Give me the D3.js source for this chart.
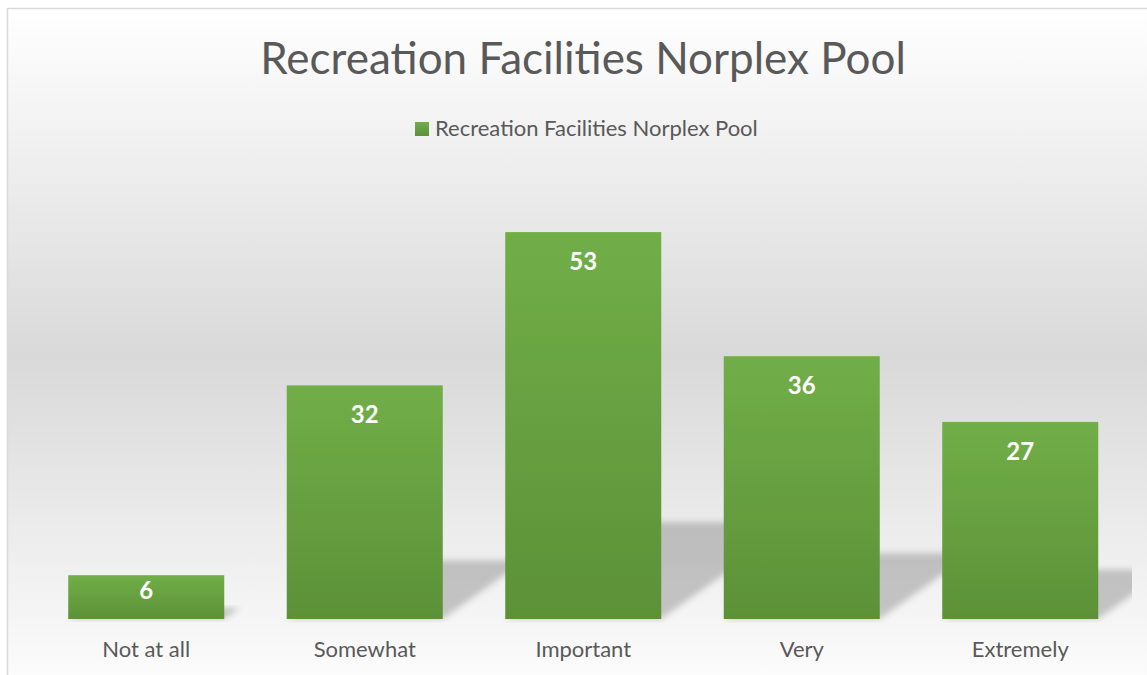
<!DOCTYPE html>
<html>
<head>
<meta charset="utf-8">
<script src="https://cdn.jsdelivr.net/npm/d3@7"></script>
<style>
  html, body { margin: 0; padding: 0; background: #fff; overflow: hidden; }
  text { font-family: Lato, "Open Sans", sans-serif; }
</style>
</head>
<body>
<script>
// data
const categories = ['Not at all', 'Somewhat', 'Important', 'Very', 'Extremely'];
const values = [6, 32, 53, 36, 27];
const seriesName = 'Recreation Facilities Norplex Pool';
const chartTitle = 'Recreation Facilities Norplex Pool';

const width = 1147;
const height = 675;
const baseline = 619;

const svg = d3.select('body')
  .append('svg')
  .attr('width', width)
  .attr('height', height);

const defs = svg.append('defs');

// chart background: white -> gray -> white
const bg = defs.append('linearGradient')
  .attr('id', 'bg')
  .attr('x1', 0).attr('y1', 0).attr('x2', 0).attr('y2', 1);
bg.append('stop').attr('offset', '0%').attr('stop-color', '#ffffff');
bg.append('stop').attr('offset', '50%').attr('stop-color', '#d9d9d9');
bg.append('stop').attr('offset', '100%').attr('stop-color', '#ffffff');

// bar fill
const barGrad = defs.append('linearGradient')
  .attr('id', 'barGrad')
  .attr('x1', 0).attr('y1', 0).attr('x2', 0).attr('y2', 1);
barGrad.append('stop').attr('offset', '0%').attr('stop-color', '#71ae48');
barGrad.append('stop').attr('offset', '100%').attr('stop-color', '#5c9138');

defs.append('filter')
  .attr('id', 'blur')
  .attr('x', '-20%').attr('y', '-20%').attr('width', '140%').attr('height', '140%')
  .append('feGaussianBlur')
  .attr('stdDeviation', 3);

defs.append('clipPath')
  .attr('id', 'plotClip')
  .append('rect')
  .attr('x', 37).attr('y', 0)
  .attr('width', 1132 - 37).attr('height', baseline + 4);

svg.append('rect')
  .attr('x', 7.5).attr('y', 8.5)
  .attr('width', 1160).attr('height', 700)
  .attr('fill', 'url(#bg)')
  .attr('stroke', '#d9d9d9')
  .attr('stroke-width', 1.5);

// scales
const xScale = d3.scaleBand()
  .domain(categories)
  .range([37, 1129.5])
  .paddingInner(0.286)
  .paddingOuter(0.143);

const yScale = d3.scaleLinear()
  .domain([0, 60])
  .range([baseline, 181]);

const rows = categories.map((c, i) => ({ category: c, value: values[i] }));

// perspective shadows behind bars
svg.append('g')
  .attr('clip-path', 'url(#plotClip)')
  .selectAll('path')
  .data(rows)
  .enter()
  .append('path')
  .attr('d', d => {
    const x0 = xScale(d.category);
    const x1 = x0 + xScale.bandwidth();
    const h = (baseline - yScale(d.value)) * 0.25;
    const dx = h * 1.4;
    return `M${x0},${baseline}L${x1},${baseline}L${x1 + dx},${baseline - h}L${x0 + dx},${baseline - h}Z`;
  })
  .attr('fill', '#000')
  .attr('fill-opacity', 0.2)
  .attr('filter', 'url(#blur)');

// bars
svg.selectAll('rect.bar')
  .data(rows)
  .enter()
  .append('rect')
  .attr('class', 'bar')
  .attr('x', d => xScale(d.category))
  .attr('y', d => yScale(d.value))
  .attr('width', xScale.bandwidth())
  .attr('height', d => baseline - yScale(d.value))
  .attr('fill', 'url(#barGrad)');

// value labels (inside end; short bars keep the label inside)
svg.selectAll('text.value')
  .data(rows)
  .enter()
  .append('text')
  .attr('class', 'value')
  .attr('x', d => xScale(d.category) + xScale.bandwidth() / 2)
  .attr('y', d => yScale(d.value) + Math.min(38, (baseline - yScale(d.value)) * 0.55))
  .attr('text-anchor', 'middle')
  .attr('fill', '#ffffff')
  .attr('font-weight', 'bold')
  .attr('font-size', 24)
  .text(d => d.value);

// category axis
const xAxis = svg.append('g')
  .attr('transform', `translate(0,${baseline})`)
  .call(d3.axisBottom(xScale).tickSize(0).tickPadding(0));
xAxis.select('.domain').remove();
xAxis.selectAll('text')
  .attr('y', 38)
  .attr('dy', 0)
  .attr('fill', '#595959')
  .attr('font-size', 22)
  .style('font-family', 'Lato, sans-serif');

// title
svg.append('text')
  .attr('x', 583)
  .attr('y', 74)
  .attr('text-anchor', 'middle')
  .attr('fill', '#595959')
  .attr('font-size', 44)
  .text(chartTitle);

// legend
const legend = svg.append('g');
legend.append('rect')
  .attr('x', 415).attr('y', 122)
  .attr('width', 14).attr('height', 14)
  .attr('fill', 'url(#barGrad)');
legend.append('text')
  .attr('x', 435)
  .attr('y', 136)
  .attr('fill', '#595959')
  .attr('font-size', 22)
  .text(seriesName);
</script>
</body>
</html>
